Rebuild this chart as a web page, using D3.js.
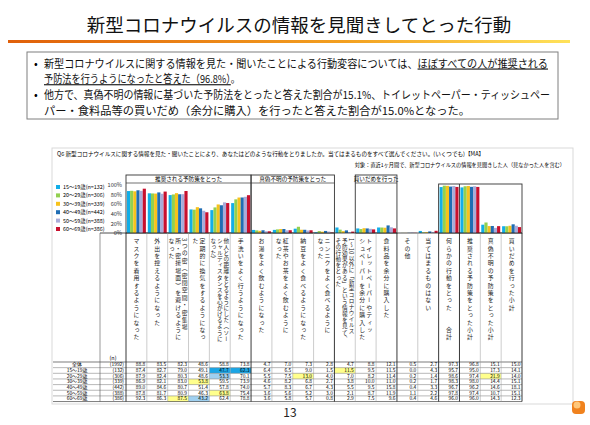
<!DOCTYPE html>
<html>
<head>
<meta charset="utf-8">
<script src="https://cdn.jsdelivr.net/npm/d3@7"></script>
<style>
  body { margin: 0; background: #fff; }
  svg { display: block; font-family: "Noto Sans CJK JP", sans-serif; }
</style>
</head>
<body>
<svg id="chart" width="590" height="425"></svg>
<script>
// データ
const categories = [
  ["マスクを着用するようになった"],
  ["外出を控えるようになった"],
  ["3つの密（密閉空間・密集場", "所・密接場面）を避けるように", "なった"],
  ["定期的に換気をするようになっ", "た"],
  ["他人との距離をとるようにした（ソー", "シャルディスタンスを心がけるように", "なった）"],
  ["手洗いをよく行うようになった"],
  ["お湯をよく飲むようになった"],
  ["紅茶やお茶をよく飲むように", "なった"],
  ["納豆をよく食べるようになった"],
  ["ニンニクをよく食べるように", "なった"],
  ["1～10以外に「新型コロナウイルス", "予防効果がある」という情報を見て、", "その行動をとった"],
  ["トイレットペーパーやティッ", "シュペーパーを余分に購入した"],
  ["食料品を余分に購入した"],
  ["その他"],
  ["当てはまるものはない"],
  ["何らかの行動をとった　　合計"],
  ["推奨される予防策をとった小計"],
  ["真偽不明の予防策をとった小計"],
  ["買いだめを行った小計"]
];
const rowLabels = ["全体", "15～19歳", "20～29歳", "30～39歳", "40～49歳", "50～59歳", "60～69歳"];
const rowN = [1992, 132, 306, 339, 442, 388, 386];
const values = [
  [88.8, 83.5, 82.3, 48.6, 58.8, 73.8, 4.7, 7.0, 7.3, 2.8, 4.7, 8.8, 12.1, 0.5, 2.7, 97.3, 96.8, 15.1, 15.0],
  [87.4, 82.7, 79.0, 49.1, 47.7, 62.3, 6.4, 6.5, 9.0, 1.5, 11.5, 9.5, 11.5, 0.0, 4.3, 95.7, 95.0, 17.3, 14.1],
  [87.9, 82.4, 80.3, 48.6, 53.3, 70.1, 5.5, 7.5, 13.0, 4.0, 7.0, 8.2, 11.4, 0.2, 1.4, 98.6, 97.4, 21.9, 14.0],
  [86.9, 82.1, 83.0, 53.8, 59.5, 73.9, 4.6, 8.2, 6.8, 2.7, 3.8, 10.0, 11.0, 0.2, 1.7, 98.3, 98.0, 14.4, 15.1],
  [89.0, 84.6, 80.7, 51.4, 57.8, 74.0, 5.7, 8.3, 6.7, 4.3, 5.5, 9.5, 15.8, 0.4, 3.3, 96.7, 96.2, 14.6, 18.1],
  [87.8, 81.7, 80.9, 46.3, 63.8, 75.4, 3.6, 5.6, 5.2, 3.0, 2.1, 8.7, 11.9, 1.1, 2.2, 97.8, 97.4, 10.7, 15.1],
  [92.3, 86.3, 87.5, 43.2, 62.4, 78.8, 3.6, 5.8, 5.7, 0.8, 2.9, 7.5, 9.6, 0.4, 4.6, 96.0, 96.0, 14.3, 12.3]
];
const groups = [
  {label: "推奨される予防策をとった", from: 0, to: 5},
  {label: "真偽不明の予防策をとった", from: 6, to: 9},
  {label: "買いだめを行った", from: 11, to: 12},
  {label: "", from: 15, to: 18}
];
// 表の色付きセル [行, 列, 種類]
const highlights = [
  [1, 4, "dark"], [1, 5, "dark"], [1, 10, "yellow"],
  [2, 4, "light"], [2, 8, "yellow"], [2, 17, "yellow"],
  [3, 3, "yellow"], [5, 4, "yellow"], [6, 2, "yellow"], [6, 3, "light"]
];
const yTicks = [0, 20, 40, 60, 80, 100];

const ageColors = ["#12aee8", "#92d050", "#f7c21b", "#1f6db4", "#a9acd9", "#c8102e"];
const hlColors = {dark: "#1ba6e6", light: "#9fd0f0", yellow: "#ffff8c"};

const svg = d3.select("#chart");

// タイトル
svg.append("text").attr("x", 299).attr("y", 32).attr("text-anchor", "middle")
  .style("font-size", "18.5px").attr("fill", "#111")
  .text("新型コロナウイルスの情報を見聞きしてとった行動");

const grad = svg.append("defs").append("linearGradient").attr("id", "orangeLine");
grad.append("stop").attr("offset", "0%").attr("stop-color", "#e0600a");
grad.append("stop").attr("offset", "60%").attr("stop-color", "#f3a020");
grad.append("stop").attr("offset", "100%").attr("stop-color", "#ffe25a");
svg.append("rect").attr("x", 8).attr("y", 40).attr("width", 562).attr("height", 3).attr("fill", "url(#orangeLine)");

// 説明ボックス
svg.append("rect").attr("x", 27).attr("y", 52).attr("width", 531).attr("height", 67)
  .attr("fill", "#fff").attr("stroke", "#7f7f7f");

const bullets = [
  {w: 504, parts: [{t: "新型コロナウイルスに関する情報を見た・聞いたことによる行動変容については、"}, {t: "ほぼすべての人が推奨される", u: true}]},
  {w: 196, parts: [{t: "予防法を行うようになったと答えた（96.8%）", u: true}, {t: "。"}]},
  {w: 506, parts: [{t: "他方で、真偽不明の情報に基づいた予防法をとったと答えた割合が15.1%、トイレットペーパー・ティッシュペー"}]},
  {w: 426, parts: [{t: "パー・食料品等の買いだめ（余分に購入）を行ったと答えた割合が15.0%となった。"}]}
];
bullets.forEach((line, i) => {
  const yy = 67.5 + i * 15.7;
  if (i === 0 || i === 2) {
    svg.append("text").attr("x", 34).attr("y", yy).style("font-size", "11px").text("•");
  }
  const t = svg.append("text").attr("x", 44).attr("y", yy).style("font-size", "11px")
    .attr("fill", "#111").attr("textLength", line.w).attr("lengthAdjust", "spacingAndGlyphs");
  line.parts.forEach(p => {
    t.append("tspan").text(p.t).attr("text-decoration", p.u ? "underline" : null);
  });
});

// 設問
svg.append("rect").attr("x", 52).attr("y", 148).attr("width", 521).attr("height", 256)
  .attr("fill", "none").attr("stroke", "#d9d9d9");
svg.append("text").attr("x", 57).attr("y", 156).style("font-size", "5.6px")
  .text("Q6 新型コロナウイルスに関する情報を見た・聞いたことにより、あなたはどのような行動をとりましたか。当てはまるものをすべて選んでください。(いくつでも)【MA】");
svg.append("text").attr("x", 565).attr("y", 167).attr("text-anchor", "end").style("font-size", "5.2px")
  .text("対象：直近1ヶ月間で、新型コロナウイルスの情報を見聞きした人（見なかった人を含む）");

// スケール
const x = d3.scaleBand().domain(d3.range(categories.length)).range([126, 522]);
const xa = d3.scaleBand().domain(d3.range(6)).range([0, x.bandwidth()]).paddingOuter(0.3);
const y = d3.scaleLinear().domain([0, 100]).range([233, 185]);

// グループ枠
groups.forEach(g => {
  const x0 = x(g.from), x1 = x(g.to) + x.bandwidth();
  const top = g.label ? 175 : 184;
  svg.append("rect").attr("x", x0).attr("y", top).attr("width", x1 - x0).attr("height", 233 - top)
    .attr("fill", "none").attr("stroke", "#333").attr("stroke-width", 0.9);
  if (g.label) {
    svg.append("line").attr("x1", x0).attr("x2", x1).attr("y1", 183).attr("y2", 183)
      .attr("stroke", "#333").attr("stroke-width", 0.7);
    svg.append("text").attr("x", (x0 + x1) / 2).attr("y", 181.2).attr("text-anchor", "middle")
      .style("font-size", "5.6px").text(g.label);
  }
});
svg.append("line").attr("x1", x(16)).attr("x2", x(16)).attr("y1", 184).attr("y2", 233)
  .attr("stroke", "#333").attr("stroke-width", 0.9);

// 棒
const bars = svg.append("g");
categories.forEach((c, ci) => {
  bars.selectAll(null).data(d3.range(6)).enter().append("rect")
    .attr("x", a => x(ci) + xa(a))
    .attr("y", a => y(values[a + 1][ci]))
    .attr("width", xa.bandwidth())
    .attr("height", a => y(0) - y(values[a + 1][ci]))
    .attr("fill", a => ageColors[a]);
});

// Y軸
svg.append("g").attr("transform", "translate(126,0)")
  .call(d3.axisLeft(y).tickValues(yTicks).tickFormat(d => d + "%").tickSize(0).tickPadding(4))
  .call(g => g.select(".domain").remove())
  .call(g => g.selectAll("text").style("font-size", "5.6px").attr("fill", "#333")
    .style("font-family", "'Noto Sans CJK JP', sans-serif"));

// 凡例
rowLabels.slice(1).forEach((r, i) => {
  const ly = 187 + i * 8.4;
  svg.append("rect").attr("x", 56).attr("y", ly - 2).attr("width", 4).attr("height", 4).attr("fill", ageColors[i]);
  svg.append("text").attr("x", 63).attr("y", ly + 2).style("font-size", "5.4px")
    .text(`${r}(n=${rowN[i + 1]})`);
});

// 表
const rowTop = 362, rowH = 5.65, tableLeft = 53, nLeft = 100;
const tableBottom = rowTop + rowH * rowLabels.length;
const tbl = svg.append("g");

highlights.forEach(([r, c, k]) => {
  tbl.append("rect").attr("x", x(c)).attr("y", rowTop + r * rowH)
    .attr("width", x.bandwidth()).attr("height", rowH).attr("fill", hlColors[k]);
});

// 横線
d3.range(rowLabels.length + 1).forEach(i => {
  tbl.append("line").attr("x1", tableLeft).attr("x2", 522)
    .attr("y1", rowTop + i * rowH).attr("y2", rowTop + i * rowH)
    .attr("stroke", i === 0 || i === rowLabels.length ? "#222" : "#888").attr("stroke-width", 0.6);
});
tbl.append("line").attr("x1", nLeft).attr("x2", 522).attr("y1", 233).attr("y2", 233)
  .attr("stroke", "#222").attr("stroke-width", 0.8);

// 縦線
const thick = [0, 6, 10, 13, 15, 16, 19];
d3.range(categories.length + 1).forEach(i => {
  const xx = i < categories.length ? x(i) : 522;
  tbl.append("line").attr("x1", xx).attr("x2", xx).attr("y1", 233).attr("y2", tableBottom)
    .attr("stroke", thick.includes(i) ? "#222" : "#999").attr("stroke-width", thick.includes(i) ? 0.9 : 0.5);
});
tbl.append("line").attr("x1", nLeft).attr("x2", nLeft).attr("y1", 233).attr("y2", tableBottom)
  .attr("stroke", "#555").attr("stroke-width", 0.6);

// 縦書きラベル
categories.forEach((lines, ci) => {
  const cx = x(ci) + x.bandwidth() / 2;
  const maxLen = d3.max(lines, l => l.length);
  const pitch = Math.min(7.4, 104 / maxLen);
  const fs = Math.min(5.9, pitch * 0.92);
  const step = lines.length > 2 ? 6.6 : 7;
  lines.forEach((ln, li) => {
    const off = ((lines.length - 1) / 2 - li) * step;
    tbl.append("text").attr("x", cx + off).attr("y", 238)
      .style("writing-mode", "vertical-rl").style("font-size", fs + "px")
      .style("letter-spacing", (pitch - fs) + "px").attr("fill", "#222").text(ln);
  });
});
tbl.append("text").attr("x", 113).attr("y", 360).attr("text-anchor", "middle")
  .style("font-size", "5.4px").text("(n)");

// 数値
rowLabels.forEach((r, ri) => {
  const ty = rowTop + ri * rowH + rowH - 1.2;
  tbl.append("text").attr("x", 77).attr("y", ty).attr("text-anchor", "middle")
    .style("font-size", "4.9px").text(r);
  tbl.append("text").attr("x", 124).attr("y", ty).attr("text-anchor", "end")
    .style("font-size", "4.9px").text(`(${rowN[ri]})`);
  values[ri].forEach((v, ci) => {
    tbl.append("text").attr("x", x(ci) + x.bandwidth() - 1.5).attr("y", ty).attr("text-anchor", "end")
      .style("font-size", "4.9px").text(v.toFixed(1));
  });
});

// ページ番号
svg.append("text").attr("x", 290).attr("y", 417).attr("text-anchor", "middle")
  .style("font-size", "12px").attr("fill", "#222").text("13");
svg.append("rect").attr("x", 572).attr("y", 401).attr("width", 13).attr("height", 13).attr("rx", 4)
  .attr("fill", "#f0821e");
svg.append("circle").attr("cx", 577).attr("cy", 405).attr("r", 3.5).attr("fill", "#ffc77a");
</script>
</body>
</html>
